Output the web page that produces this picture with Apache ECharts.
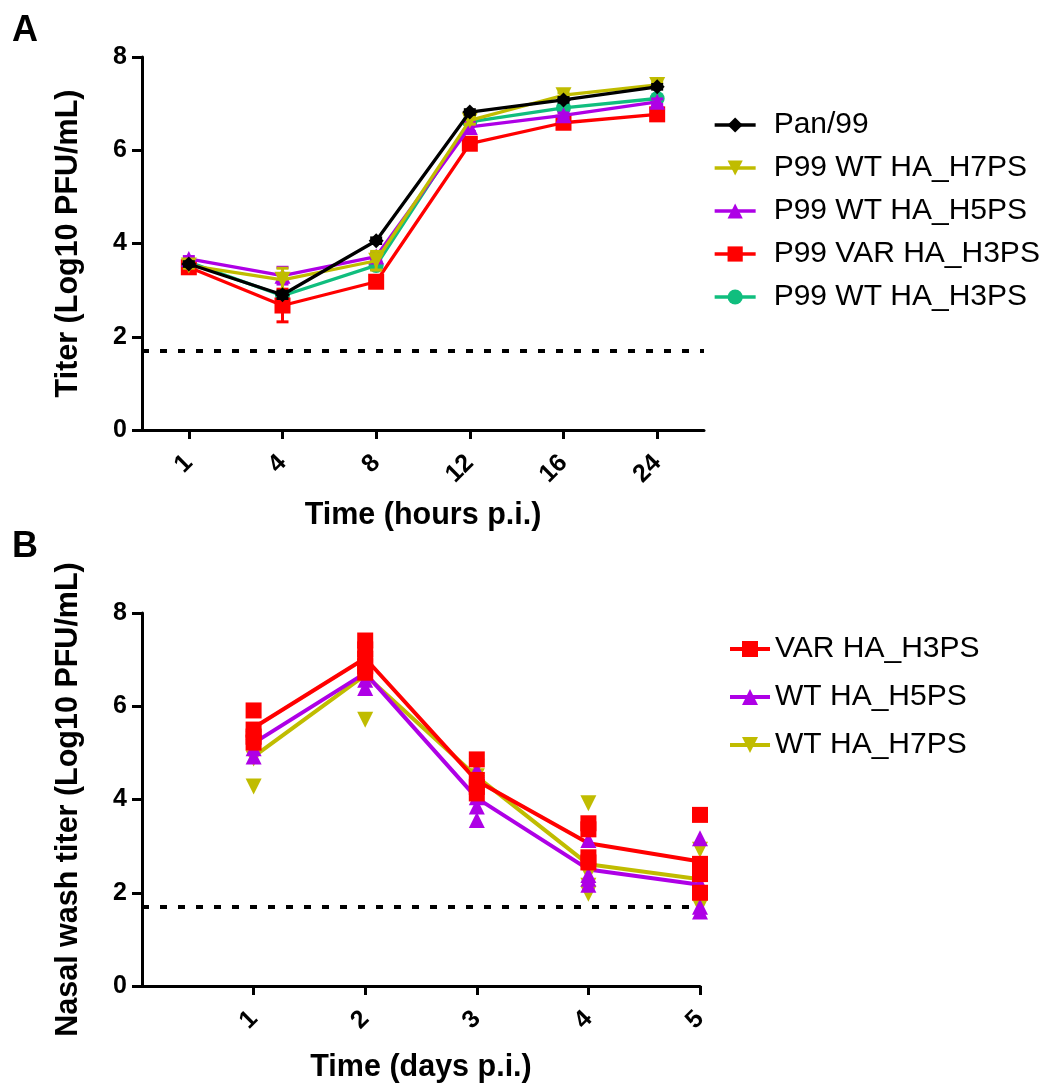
<!DOCTYPE html>
<html>
<head>
<meta charset="utf-8">
<script src="https://cdn.jsdelivr.net/npm/echarts@6/dist/echarts.min.js"></script>
<style>
html,body{margin:0;padding:0;background:#fff;}
#chart{width:1042px;height:1085px;}
</style>
</head>
<body>
<div id="chart"></div>
<script>
// ---------- Panel A data ----------
const hours = ['1', '4', '8', '12', '16', '24'];
const pan99    = [3.56, 2.90, 4.06, 6.82, 7.08, 7.36];
const pan99Err = [0.05, 0.08, 0.06, 0.05, 0.05, 0.05];
const h7psA    = [3.53, 3.22, 3.63, 6.64, 7.18, 7.40];
const h7psAErr = [0.06, 0.25, 0.20, 0.08, 0.05, 0.05];
const h5psA    = [3.67, 3.31, 3.72, 6.50, 6.75, 7.04];
const h5psAErr = [0.05, 0.18, 0.08, 0.10, 0.05, 0.06];
const varH3A   = [3.49, 2.67, 3.18, 6.14, 6.59, 6.77];
const varH3AErr= [0.05, 0.35, 0.10, 0.10, 0.06, 0.08];
const wtH3A    = [3.60, 2.88, 3.53, 6.61, 6.91, 7.11];
const wtH3AErr = [0.06, 0.08, 0.08, 0.06, 0.05, 0.05];
const yTicksA = [0, 2, 4, 6, 8];
const detectionLimit = 1.7;

// ---------- Panel B data ----------
const days = [1, 2, 3, 4, 5];
const varMeanB = [5.54, 7.03, 4.40, 3.06, 2.67];
const h5MeanB  = [5.21, 6.71, 4.03, 2.50, 2.17];
const h7MeanB  = [4.92, 6.67, 4.49, 2.61, 2.29];
const varPtsB = [
  [5.91, 5.50, 5.35, 5.22],
  [7.41, 7.22, 7.02, 6.86, 6.72],
  [4.86, 4.42, 4.27, 4.13],
  [3.49, 3.36, 2.76, 2.65],
  [3.67, 2.62, 2.40, 2.00]
];
const h5PtsB = [
  [4.92, 5.10, 5.35, 5.45],
  [6.39, 6.57, 6.85, 7.00],
  [4.63, 4.05, 3.85, 3.56],
  [3.13, 2.38, 2.17, 2.30],
  [3.17, 2.20, 1.70, 1.60]
];
const h7PtsB = [
  [4.28, 4.88, 5.20, 5.30],
  [5.71, 6.90, 7.00, 7.10],
  [4.70, 4.50, 4.40, 4.35],
  [3.92, 2.40, 2.15, 1.98],
  [2.92, 2.30, 2.25, 1.70]
];

// ---------- styles ----------
const FONT = "'Liberation Sans', Arial, Helvetica, sans-serif";
const C_BLACK = '#000000';
const C_YEL = '#C0BC00';
const C_PUR = '#AE00E6';
const C_RED = '#FF0000';
const C_GRN = '#10BE7E';
const DOWN_TRI = 'path://M0,0L10,0L5,9Z';

function errSeries(means, errs, color, z) {
  return {
    type: 'custom', xAxisIndex: 0, yAxisIndex: 0, z: z, silent: true,
    name: 'err',
    data: means.map((m, i) => [i, m, errs[i]]),
    renderItem: function (params, api) {
      const x = api.value(0), m = api.value(1), e = api.value(2);
      const top = api.coord([x, m + e]);
      const bot = api.coord([x, m - e]);
      const hw = 6;
      const st = { stroke: color, lineWidth: 3 };
      return {
        type: 'group',
        children: [
          { type: 'line', shape: { x1: top[0], y1: top[1], x2: bot[0], y2: bot[1] }, style: st },
          { type: 'line', shape: { x1: top[0] - hw, y1: top[1], x2: top[0] + hw, y2: top[1] }, style: st },
          { type: 'line', shape: { x1: bot[0] - hw, y1: bot[1], x2: bot[0] + hw, y2: bot[1] }, style: st }
        ]
      };
    }
  };
}

function lineA(name, data, color, symbol, size, z) {
  return {
    type: 'line', name: name, xAxisIndex: 0, yAxisIndex: 0, z: z,
    data: data, symbol: symbol, symbolSize: size,
    lineStyle: { color: color, width: 3.3 },
    itemStyle: { color: color },
    emphasis: { disabled: true }
  };
}

function lineB(name, data, color, symbol, z) {
  return {
    type: 'line', name: name, xAxisIndex: 1, yAxisIndex: 1, z: z,
    data: days.map((d, i) => [d, data[i]]),
    symbol: symbol, symbolSize: 16, showSymbol: false,
    lineStyle: { color: color, width: 4 },
    itemStyle: { color: color },
    emphasis: { disabled: true }
  };
}

function scatterB(pts, color, symbol, z) {
  const data = [];
  days.forEach((d, i) => pts[i].forEach(v => data.push([d, v])));
  return {
    type: 'scatter', name: 'pts', xAxisIndex: 1, yAxisIndex: 1, z: z,
    data: data, symbol: symbol, symbolSize: 16,
    itemStyle: { color: color, opacity: 1 },
    emphasis: { disabled: true }
  };
}

const dashLine = {
  silent: true, symbol: 'none', label: { show: false },
  lineStyle: { color: '#000', width: 4, type: [7, 11] },
  data: [{ yAxis: detectionLimit }]
};

const axisLabelStyle = { color: '#000', fontFamily: FONT, fontWeight: 'bold', fontSize: 25 };
const axisNameStyle = { color: '#000', fontFamily: FONT, fontWeight: 'bold', fontSize: 30.5 };
const axisLineStyle = { show: true, lineStyle: { color: '#000', width: 3 } };

const chart = echarts.init(document.getElementById('chart'), null, { renderer: 'canvas' });

const option = {
  animation: false,
  backgroundColor: '#fff',
  graphic: [
    { type: 'text', left: 12, top: 13, style: { text: 'A', font: "bold 36px " + FONT, fill: '#000' } },
    { type: 'text', left: 12, top: 529, style: { text: 'B', font: "bold 36px " + FONT, fill: '#000' } }
  ],
  grid: [
    { left: 142, top: 57, width: 562, height: 373, outerBoundsMode: 'none', containLabel: false },
    { left: 142, top: 613, width: 558, height: 373, outerBoundsMode: 'none', containLabel: false }
  ],
  legend: [
    {
      orient: 'vertical', left: 708, top: 105,
      itemWidth: 41, itemHeight: 19, itemGap: 13,
      data: ['Pan/99', 'P99 WT HA_H7PS', 'P99 WT HA_H5PS', 'P99 VAR HA_H3PS', 'P99 WT HA_H3PS'],
      lineStyle: { width: 3.3 },
      textStyle: { color: '#000', fontFamily: FONT, fontSize: 30, padding: [0, 0, 0, 13] },
      selectedMode: false
    },
    {
      orient: 'vertical', left: 723, top: 629,
      itemWidth: 40, itemHeight: 20, itemGap: 18,
      data: ['VAR HA_H3PS', 'WT HA_H5PS', 'WT HA_H7PS'],
      lineStyle: { width: 4 },
      textStyle: { color: '#000', fontFamily: FONT, fontSize: 30, padding: [0, 0, 0, 0] },
      selectedMode: false
    }
  ],
  xAxis: [
    {
      gridIndex: 0, type: 'category', data: hours, boundaryGap: true,
      axisLine: axisLineStyle,
      axisTick: { show: true, alignWithLabel: true, length: 9, lineStyle: { color: '#000', width: 3 } },
      axisLabel: Object.assign({ rotate: 45, margin: 29, interval: 0 }, axisLabelStyle),
      splitLine: { show: false },
      name: 'Time (hours p.i.)', nameLocation: 'middle', nameGap: 70, nameTextStyle: axisNameStyle
    },
    {
      gridIndex: 1, type: 'value', min: 0, max: 5, interval: 1,
      axisLine: axisLineStyle,
      axisTick: { show: true, length: 9, lineStyle: { color: '#000', width: 3 }, customValues: days },
      axisLabel: Object.assign({ rotate: 45, margin: 29, customValues: days }, axisLabelStyle),
      splitLine: { show: false },
      name: 'Time (days p.i.)', nameLocation: 'middle', nameGap: 66, nameTextStyle: axisNameStyle
    }
  ],
  yAxis: [
    {
      gridIndex: 0, type: 'value', min: 0, max: 8, interval: 2,
      axisLine: axisLineStyle,
      axisTick: { show: true, length: 10, lineStyle: { color: '#000', width: 3 } },
      axisLabel: Object.assign({ margin: 15 }, axisLabelStyle),
      splitLine: { show: false },
      name: 'Titer (Log10 PFU/mL)', nameLocation: 'middle', nameGap: 58, nameTextStyle: axisNameStyle
    },
    {
      gridIndex: 1, type: 'value', min: 0, max: 8, interval: 2,
      axisLine: axisLineStyle,
      axisTick: { show: true, length: 10, lineStyle: { color: '#000', width: 3 } },
      axisLabel: Object.assign({ margin: 15 }, axisLabelStyle),
      splitLine: { show: false },
      name: 'Nasal wash titer (Log10 PFU/mL)', nameLocation: 'middle', nameGap: 58, nameTextStyle: axisNameStyle
    }
  ],
  series: [
    // Panel A error bars
    errSeries(wtH3A, wtH3AErr, C_GRN, 2),
    errSeries(varH3A, varH3AErr, C_RED, 3),
    errSeries(h5psA, h5psAErr, C_PUR, 4),
    errSeries(h7psA, h7psAErr, C_YEL, 5),
    errSeries(pan99, pan99Err, C_BLACK, 6),
    // Panel A lines
    Object.assign(lineA('P99 WT HA_H3PS', wtH3A, C_GRN, 'circle', 15, 2), { markLine: dashLine }),
    lineA('P99 VAR HA_H3PS', varH3A, C_RED, 'rect', 16, 3),
    lineA('P99 WT HA_H5PS', h5psA, C_PUR, 'triangle', 16, 4),
    lineA('P99 WT HA_H7PS', h7psA, C_YEL, DOWN_TRI, 16, 5),
    lineA('Pan/99', pan99, C_BLACK, 'diamond', 15, 6),
    // Panel B mean lines
    Object.assign(lineB('WT HA_H7PS', h7MeanB, C_YEL, DOWN_TRI, 2), { markLine: dashLine }),
    lineB('WT HA_H5PS', h5MeanB, C_PUR, 'triangle', 3),
    lineB('VAR HA_H3PS', varMeanB, C_RED, 'rect', 4),
    // Panel B individual animals
    scatterB(h7PtsB, C_YEL, DOWN_TRI, 5),
    scatterB(h5PtsB, C_PUR, 'triangle', 6),
    scatterB(varPtsB, C_RED, 'rect', 7)
  ]
};

chart.setOption(option);
</script>
</body>
</html>
